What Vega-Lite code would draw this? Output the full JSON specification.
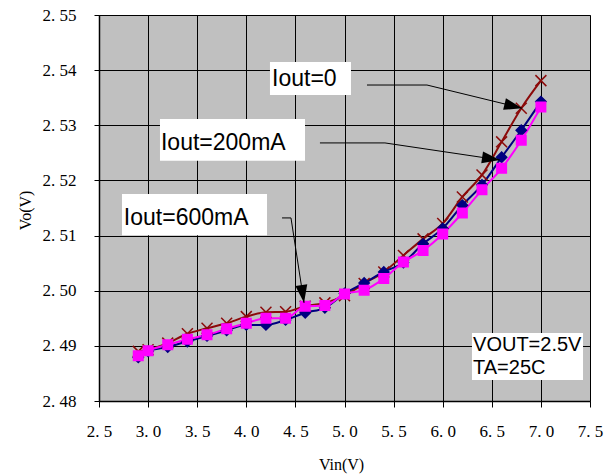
{
  "$schema": "https://vega.github.io/schema/vega-lite/v6.json",
  "width": 491,
  "height": 386,
  "autosize": {"type": "none"},
  "padding": {"left": 99, "top": 15, "right": 21, "bottom": 73},
  "background": "white",
  "config": {
    "view": {"fill": "#C0C0C0", "stroke": "#808080", "strokeWidth": 1},
    "axis": {
      "labelFont": "Liberation Serif",
      "titleFont": "Liberation Serif",
      "labelFontSize": 17,
      "titleFontSize": 16,
      "titleFontWeight": "normal",
      "labelColor": "#000000",
      "titleColor": "#000000",
      "domainColor": "#000000",
      "tickColor": "#000000",
      "gridColor": "#000000",
      "gridOpacity": 1,
      "gridWidth": 1,
      "domainWidth": 1.5,
      "tickWidth": 1,
      "labelFlush": false,
      "labelOverlap": false,
      "labelBound": false
    }
  },
  "datasets": {
    "series": [
      {"vin": 2.9, "vo": 2.4890, "s": "Iout=0"},
      {"vin": 3.0, "vo": 2.4893, "s": "Iout=0"},
      {"vin": 3.2, "vo": 2.4905, "s": "Iout=0"},
      {"vin": 3.4, "vo": 2.4922, "s": "Iout=0"},
      {"vin": 3.6, "vo": 2.4932, "s": "Iout=0"},
      {"vin": 3.8, "vo": 2.4941, "s": "Iout=0"},
      {"vin": 4.0, "vo": 2.4953, "s": "Iout=0"},
      {"vin": 4.2, "vo": 2.4961, "s": "Iout=0"},
      {"vin": 4.4, "vo": 2.4962, "s": "Iout=0"},
      {"vin": 4.6, "vo": 2.4972, "s": "Iout=0"},
      {"vin": 4.8, "vo": 2.4978, "s": "Iout=0"},
      {"vin": 5.0, "vo": 2.4991, "s": "Iout=0"},
      {"vin": 5.2, "vo": 2.5013, "s": "Iout=0"},
      {"vin": 5.4, "vo": 2.5034, "s": "Iout=0"},
      {"vin": 5.6, "vo": 2.5064, "s": "Iout=0"},
      {"vin": 5.8, "vo": 2.5094, "s": "Iout=0"},
      {"vin": 6.0, "vo": 2.5122, "s": "Iout=0"},
      {"vin": 6.2, "vo": 2.5170, "s": "Iout=0"},
      {"vin": 6.4, "vo": 2.5210, "s": "Iout=0"},
      {"vin": 6.6, "vo": 2.5270, "s": "Iout=0"},
      {"vin": 6.8, "vo": 2.5331, "s": "Iout=0"},
      {"vin": 7.0, "vo": 2.5381, "s": "Iout=0"},
      {"vin": 2.9, "vo": 2.4879, "s": "Iout=200mA"},
      {"vin": 3.0, "vo": 2.4890, "s": "Iout=200mA"},
      {"vin": 3.2, "vo": 2.4898, "s": "Iout=200mA"},
      {"vin": 3.4, "vo": 2.4908, "s": "Iout=200mA"},
      {"vin": 3.6, "vo": 2.4918, "s": "Iout=200mA"},
      {"vin": 3.8, "vo": 2.4928, "s": "Iout=200mA"},
      {"vin": 4.0, "vo": 2.4938, "s": "Iout=200mA"},
      {"vin": 4.2, "vo": 2.4938, "s": "Iout=200mA"},
      {"vin": 4.4, "vo": 2.4947, "s": "Iout=200mA"},
      {"vin": 4.6, "vo": 2.4960, "s": "Iout=200mA"},
      {"vin": 4.8, "vo": 2.4969, "s": "Iout=200mA"},
      {"vin": 5.0, "vo": 2.4995, "s": "Iout=200mA"},
      {"vin": 5.2, "vo": 2.5014, "s": "Iout=200mA"},
      {"vin": 5.4, "vo": 2.5034, "s": "Iout=200mA"},
      {"vin": 5.6, "vo": 2.5051, "s": "Iout=200mA"},
      {"vin": 5.8, "vo": 2.5085, "s": "Iout=200mA"},
      {"vin": 6.0, "vo": 2.5113, "s": "Iout=200mA"},
      {"vin": 6.2, "vo": 2.5155, "s": "Iout=200mA"},
      {"vin": 6.4, "vo": 2.5192, "s": "Iout=200mA"},
      {"vin": 6.6, "vo": 2.5242, "s": "Iout=200mA"},
      {"vin": 6.8, "vo": 2.5291, "s": "Iout=200mA"},
      {"vin": 7.0, "vo": 2.5343, "s": "Iout=200mA"},
      {"vin": 2.9, "vo": 2.4882, "s": "Iout=600mA"},
      {"vin": 3.0, "vo": 2.4891, "s": "Iout=600mA"},
      {"vin": 3.2, "vo": 2.4902, "s": "Iout=600mA"},
      {"vin": 3.4, "vo": 2.4912, "s": "Iout=600mA"},
      {"vin": 3.6, "vo": 2.4920, "s": "Iout=600mA"},
      {"vin": 3.8, "vo": 2.4931, "s": "Iout=600mA"},
      {"vin": 4.0, "vo": 2.4941, "s": "Iout=600mA"},
      {"vin": 4.2, "vo": 2.4950, "s": "Iout=600mA"},
      {"vin": 4.4, "vo": 2.4950, "s": "Iout=600mA"},
      {"vin": 4.6, "vo": 2.4972, "s": "Iout=600mA"},
      {"vin": 4.8, "vo": 2.4973, "s": "Iout=600mA"},
      {"vin": 5.0, "vo": 2.4994, "s": "Iout=600mA"},
      {"vin": 5.2, "vo": 2.5001, "s": "Iout=600mA"},
      {"vin": 5.4, "vo": 2.5022, "s": "Iout=600mA"},
      {"vin": 5.6, "vo": 2.5052, "s": "Iout=600mA"},
      {"vin": 5.8, "vo": 2.5073, "s": "Iout=600mA"},
      {"vin": 6.0, "vo": 2.5103, "s": "Iout=600mA"},
      {"vin": 6.2, "vo": 2.5141, "s": "Iout=600mA"},
      {"vin": 6.4, "vo": 2.5183, "s": "Iout=600mA"},
      {"vin": 6.6, "vo": 2.5222, "s": "Iout=600mA"},
      {"vin": 6.8, "vo": 2.5273, "s": "Iout=600mA"},
      {"vin": 7.0, "vo": 2.5333, "s": "Iout=600mA"}
    ],
    "boxes": [
      {"x1": 4.241, "x2": 5.066, "y1": 2.54148, "y2": 2.53549},
      {"x1": 3.121, "x2": 4.598, "y1": 2.53114, "y2": 2.52358},
      {"x1": 2.734, "x2": 4.211, "y1": 2.51754, "y2": 2.51005},
      {"x1": 6.298, "x2": 7.429, "y1": 2.49233, "y2": 2.48381}
    ],
    "labels": [
      {"x": 4.262, "y": 2.53839, "t": "Iout=0"},
      {"x": 3.131, "y": 2.52679, "t": "Iout=200mA"},
      {"x": 2.753, "y": 2.51318, "t": "Iout=600mA"}
    ],
    "notes": [
      {"x": 6.309, "y": 2.49015, "t": "VOUT=2.5V"},
      {"x": 6.309, "y": 2.48598, "t": "TA=25C"}
    ],
    "arrows": [
      {"a": 1, "k": 1, "x": 5.229, "y": 2.5373},
      {"a": 1, "k": 2, "x": 5.840, "y": 2.5373},
      {"a": 1, "k": 3, "x": 6.808, "y": 2.5331},
      {"a": 2, "k": 1, "x": 4.750, "y": 2.5268},
      {"a": 2, "k": 2, "x": 5.412, "y": 2.5268},
      {"a": 2, "k": 3, "x": 6.583, "y": 2.5237},
      {"a": 3, "k": 1, "x": 4.364, "y": 2.5132},
      {"a": 3, "k": 2, "x": 4.455, "y": 2.5132},
      {"a": 3, "k": 3, "x": 4.588, "y": 2.4978}
    ]
  },
  "layer": [
    {
      "data": {"name": "series"},
      "mark": {"type": "line", "interpolate": "monotone", "strokeWidth": 2, "clip": true},
      "encoding": {
        "x": {
          "field": "vin", "type": "quantitative",
          "scale": {"domain": [2.5, 7.5], "nice": false, "zero": false},
          "axis": {
            "values": [2.5, 3.0, 3.5, 4.0, 4.5, 5.0, 5.5, 6.0, 6.5, 7.0, 7.5],
            "labelExpr": "replace(format(datum.value, '.1f'), '.', '. ')",
            "tickSize": 6,
            "labelPadding": 16,
            "title": "Vin(V)",
            "titleX": 242,
            "titleY": 63,
            "titleBaseline": "middle",
            "titleAlign": "center"
          }
        },
        "y": {
          "field": "vo", "type": "quantitative",
          "scale": {"domain": [2.48, 2.55], "nice": false, "zero": false},
          "axis": {
            "values": [2.48, 2.485, 2.49, 2.495, 2.5, 2.505, 2.51, 2.515, 2.52, 2.525, 2.53, 2.535, 2.54, 2.545, 2.55],
            "labelExpr": "round(datum.value * 1000) % 10 == 0 ? replace(format(datum.value, '.2f'), '.', '. ') : ''",
            "tickColor": {"condition": {"test": "round(datum.value * 1000) % 10 == 0", "value": "#000000"}, "value": "transparent"},
            "tickSize": 5,
            "labelPadding": 18,
            "title": "Vo(V)",
            "titleX": -74,
            "titleY": 195,
            "titleAngle": 270,
            "titleBaseline": "middle",
            "titleAlign": "center"
          }
        },
        "color": {
          "field": "s", "type": "nominal",
          "scale": {"domain": ["Iout=0", "Iout=200mA", "Iout=600mA"], "range": ["#8B0A0A", "#000080", "#FF00FF"]},
          "legend": null
        }
      }
    },
    {
      "data": {"name": "series"},
      "mark": {"type": "point", "filled": false, "strokeWidth": 1.5, "opacity": 1},
      "encoding": {
        "x": {"field": "vin", "type": "quantitative"},
        "y": {"field": "vo", "type": "quantitative"},
        "fill": {
          "field": "s", "type": "nominal",
          "scale": {"domain": ["Iout=0", "Iout=200mA", "Iout=600mA"], "range": ["#8B0A0A", "#000080", "#FF00FF"]},
          "legend": null
        },
        "stroke": {
          "field": "s", "type": "nominal",
          "scale": {"domain": ["Iout=0", "Iout=200mA", "Iout=600mA"], "range": ["#8B0A0A", "#000080", "#FF00FF"]},
          "legend": null
        },
        "shape": {
          "field": "s", "type": "nominal",
          "scale": {"domain": ["Iout=0", "Iout=200mA", "Iout=600mA"], "range": ["M-1,-1L1,1M-1,1L1,-1", "diamond", "square"]},
          "legend": null
        },
        "size": {
          "field": "s", "type": "nominal",
          "scale": {"domain": ["Iout=0", "Iout=200mA", "Iout=600mA"], "range": [120, 90, 110]},
          "legend": null
        }
      }
    },
    {
      "data": {"name": "arrows"},
      "mark": {"type": "line", "color": "#000000", "strokeWidth": 1},
      "encoding": {
        "x": {"field": "x", "type": "quantitative"},
        "y": {"field": "y", "type": "quantitative"},
        "detail": {"field": "a", "type": "nominal"},
        "order": {"field": "k", "type": "quantitative"}
      }
    },
    {
      "data": {"values": [{"x": 6.808, "y": 2.5331}]},
      "mark": {"type": "point", "shape": "M0,0L-1.8,-0.6L-1.8,0.6Z", "size": 400, "filled": true, "color": "#000000", "opacity": 1, "angle": 13.6},
      "encoding": {"x": {"field": "x", "type": "quantitative"}, "y": {"field": "y", "type": "quantitative"}}
    },
    {
      "data": {"values": [{"x": 6.583, "y": 2.5237}]},
      "mark": {"type": "point", "shape": "M0,0L-1.8,-0.6L-1.8,0.6Z", "size": 400, "filled": true, "color": "#000000", "opacity": 1, "angle": 8.4},
      "encoding": {"x": {"field": "x", "type": "quantitative"}, "y": {"field": "y", "type": "quantitative"}}
    },
    {
      "data": {"values": [{"x": 4.588, "y": 2.4978}]},
      "mark": {"type": "point", "shape": "M0,0L-1.8,-0.6L-1.8,0.6Z", "size": 400, "filled": true, "color": "#000000", "opacity": 1, "angle": 81.3},
      "encoding": {"x": {"field": "x", "type": "quantitative"}, "y": {"field": "y", "type": "quantitative"}}
    },
    {
      "data": {"name": "boxes"},
      "mark": {"type": "rect", "fill": "#FFFFFF", "stroke": null},
      "encoding": {
        "x": {"field": "x1", "type": "quantitative"},
        "x2": {"field": "x2"},
        "y": {"field": "y1", "type": "quantitative"},
        "y2": {"field": "y2"}
      }
    },
    {
      "data": {"name": "labels"},
      "mark": {"type": "text", "font": "Liberation Sans", "fontSize": 23, "align": "left", "baseline": "middle", "color": "#000000"},
      "encoding": {
        "x": {"field": "x", "type": "quantitative"},
        "y": {"field": "y", "type": "quantitative"},
        "text": {"field": "t"}
      }
    },
    {
      "data": {"name": "notes"},
      "mark": {"type": "text", "font": "Liberation Sans", "fontSize": 20, "align": "left", "baseline": "middle", "color": "#000000"},
      "encoding": {
        "x": {"field": "x", "type": "quantitative"},
        "y": {"field": "y", "type": "quantitative"},
        "text": {"field": "t"}
      }
    }
  ]
}
